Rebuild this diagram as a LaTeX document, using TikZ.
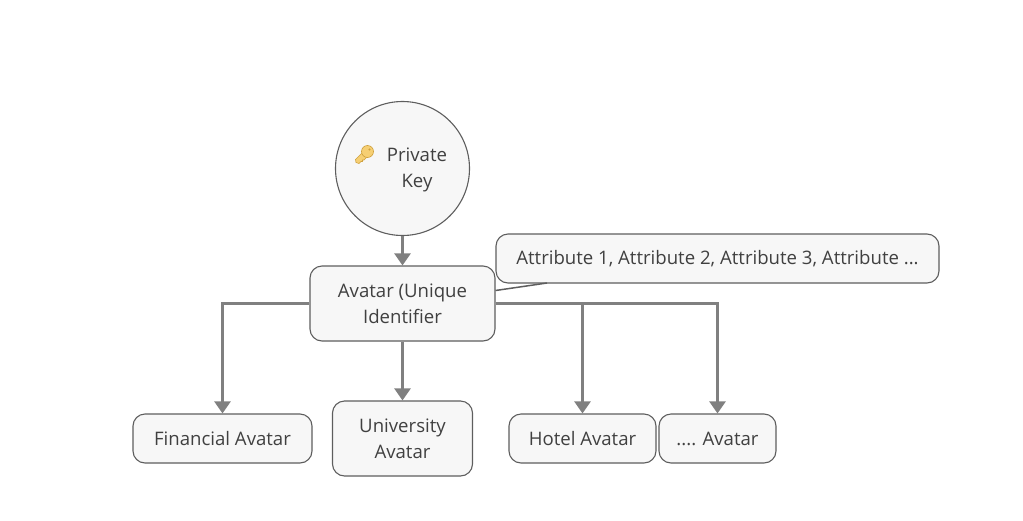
\documentclass[tikz,border=0pt]{standalone}
\usepackage{fontspec}
\setmainfont{Open Sans}
\usetikzlibrary{arrows.meta}
\definecolor{boxfill}{HTML}{F7F7F7}
\definecolor{boxline}{HTML}{5E5E5E}
\definecolor{linkline}{HTML}{808080}
\definecolor{textcol}{HTML}{404040}
\definecolor{keygold}{HTML}{F6CF73}
\definecolor{keyedge}{HTML}{CFA03C}
\tikzset{
  box/.style={draw=boxline, fill=boxfill, rounded corners=12pt, line width=1.1pt, minimum height=49pt, align=center, text=textcol, inner sep=0pt, font=\fontsize{18.6}{26}\selectfont},
  link/.style={draw=linkline, line width=2.4pt, -{Triangle[length=12pt,width=16pt]}},
}
\begin{document}
\begin{tikzpicture}[x=1pt,y=-1pt]
\useasboundingbox (0,0) rectangle (1023,520);
\node [circle, draw=boxline, fill=boxfill, line width=1.1pt, minimum size=134pt, inner sep=0pt] (privatekey) at (402.5,168.5) {};
\node [align=center, text=textcol, inner sep=0pt, font=\fontsize{18.6}{26}\selectfont] (keytext) at (417,169.5) {Private\\Key};
\node [box, minimum width=185pt, minimum height=75pt] (avatar) at (402.5,303.5) {Avatar (Unique\\Identifier};
\node [box, minimum width=443pt] (attr) at (717.5,258.5) {Attribute 1, Attribute 2, Attribute 3, Attribute ...};
\node [box, minimum width=179pt] (financial) at (222.5,438.5) {Financial Avatar};
\node [box, minimum width=140pt, minimum height=75pt] (university) at (402.5,438.5) {University\\Avatar};
\node [box, minimum width=147pt] (hotel) at (582.5,438.5) {Hotel Avatar};
\node [box, minimum width=117pt] (other) at (717.5,438.5) {.... Avatar};
% key icon
\draw [draw=keyedge, fill=keygold, line width=0.6pt, line join=round] (363,152) -- (355.5,159.5) -- (356,162.5) -- (359,163.5) -- (361,161.5) -- (362.5,161.5) -- (362.5,160) -- (364,160) -- (368,156) -- cycle;
\draw [draw=keyedge, fill=keygold, line width=0.6pt] (367.5,151.5) circle (6pt);
\fill [keyedge] (369.5,149.5) circle (1.1pt);
% links
\draw [link] (privatekey.south) -- (avatar.north);
\draw [link] (avatar.south) -- (university.north);
\draw [link] (avatar.west) -| (financial.north);
\draw [link] (avatar.east) -| (hotel.north);
\draw [link] (avatar.east) -| (other.north);
% callout
\coordinate (calloutfoot) at (547,283);
\coordinate (callouttip) at (495.5,290.5);
\draw [boxline, line width=1.5pt] (callouttip) -- (calloutfoot);
\end{tikzpicture}
\end{document}
